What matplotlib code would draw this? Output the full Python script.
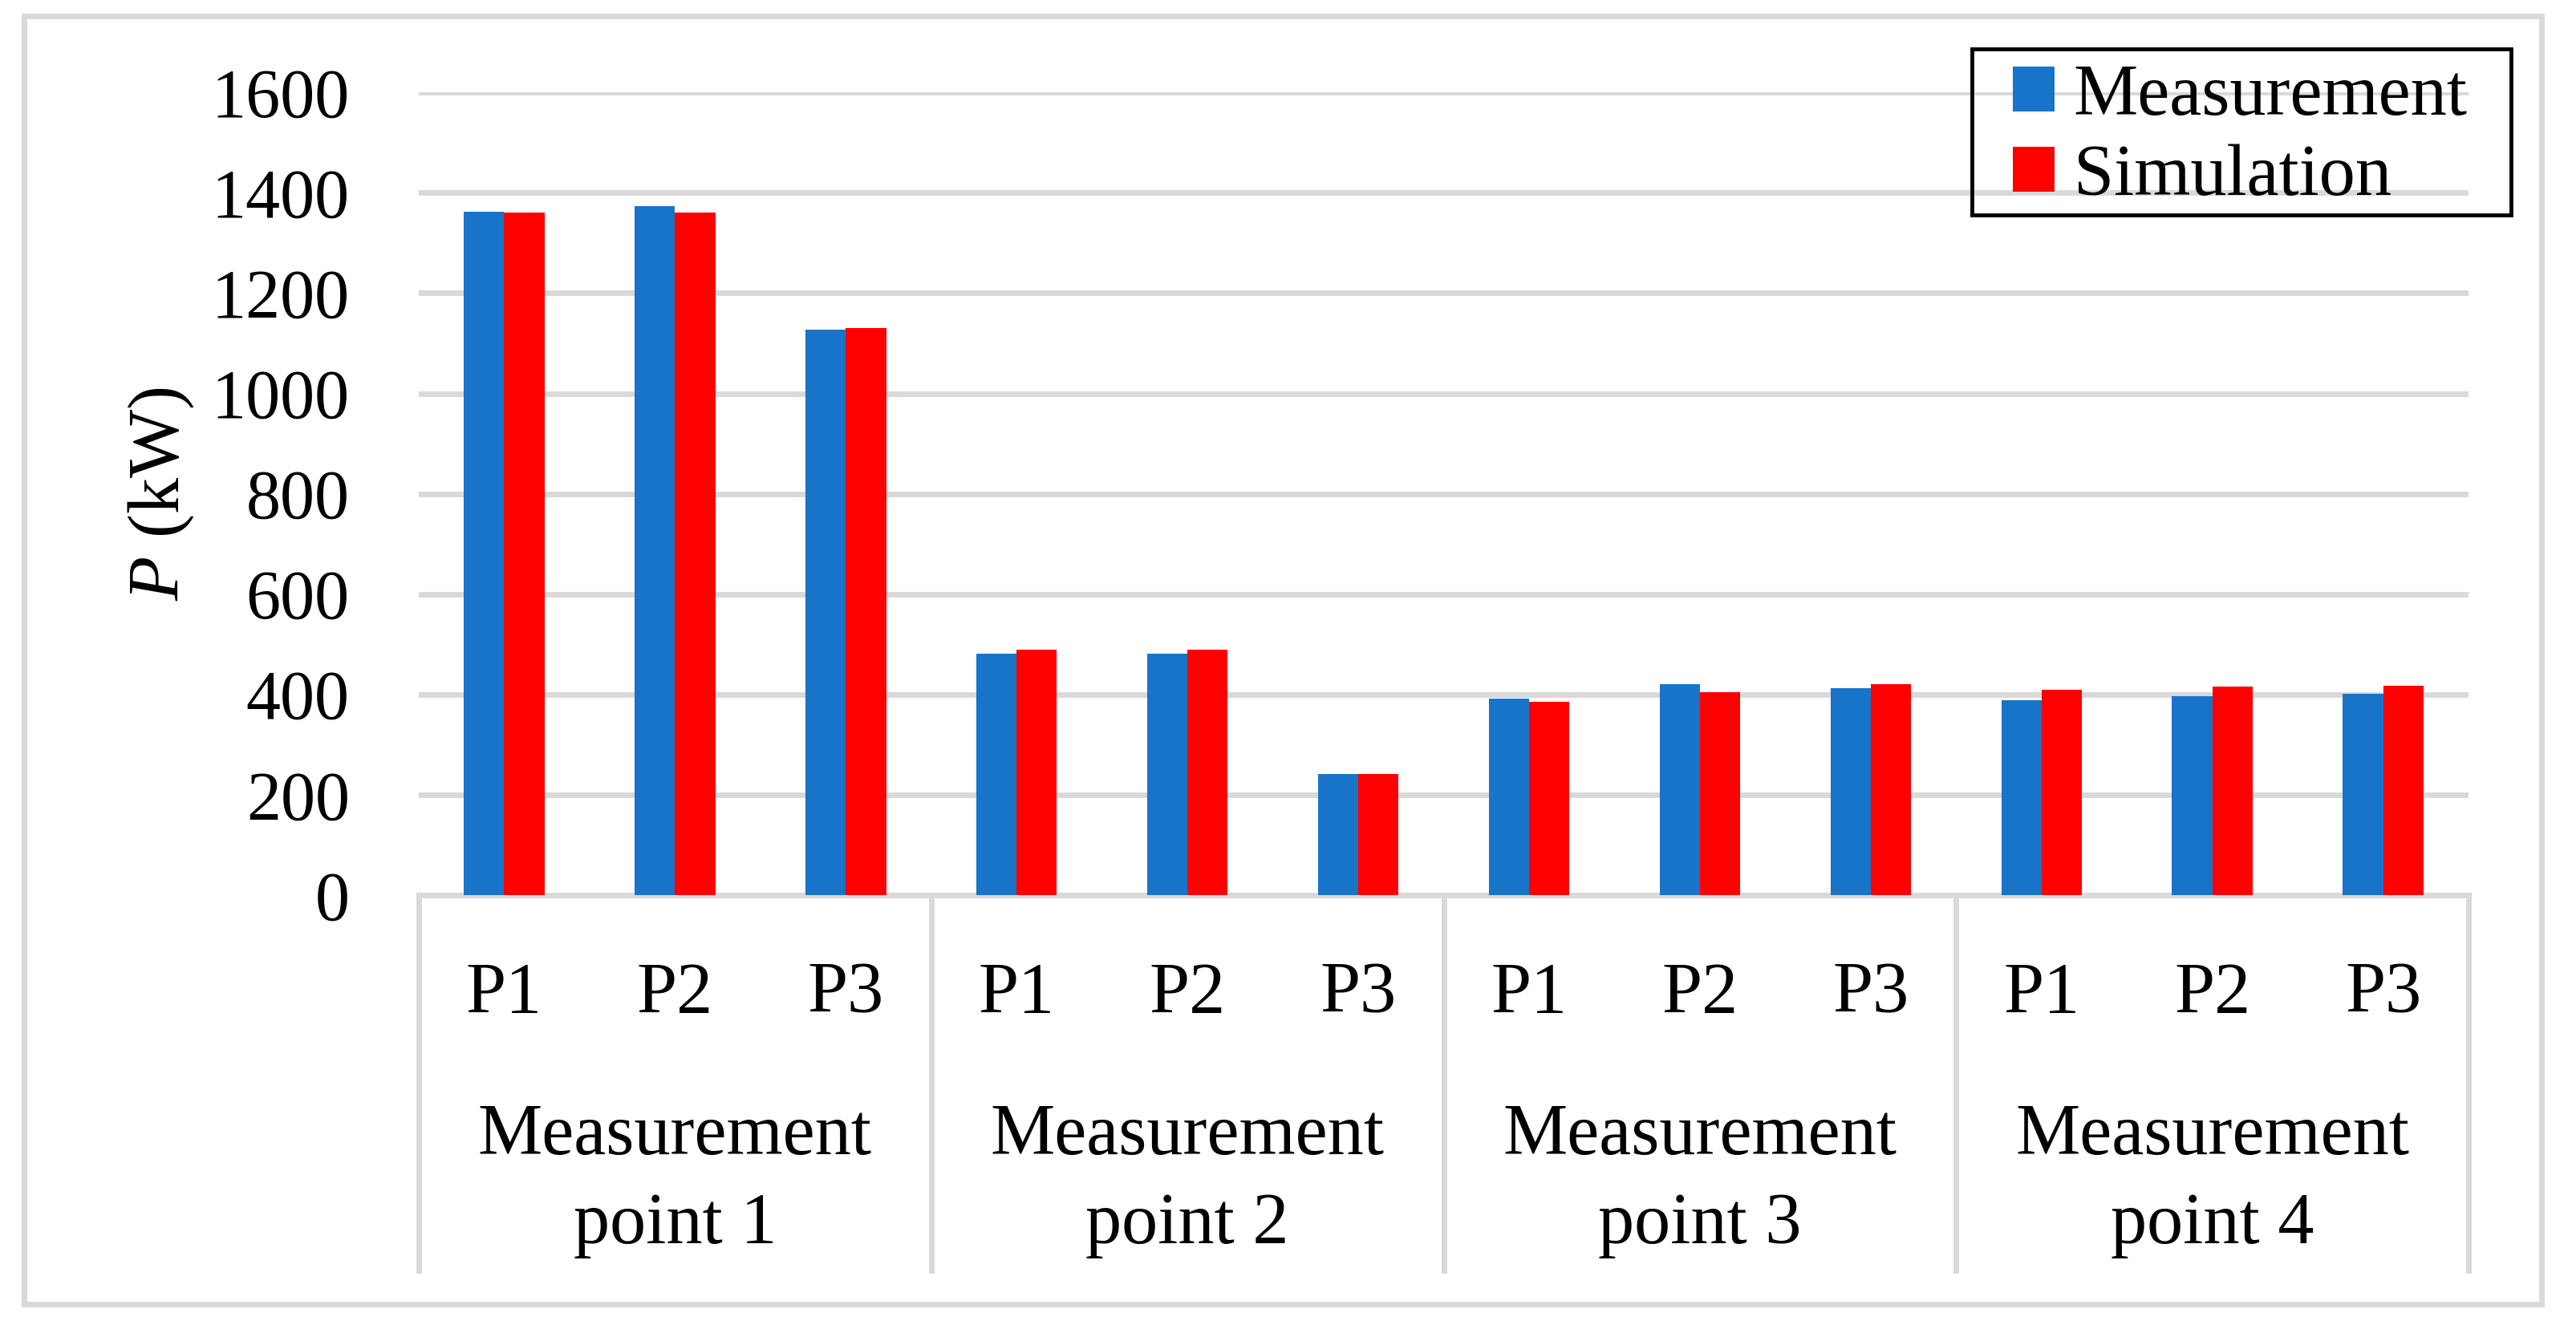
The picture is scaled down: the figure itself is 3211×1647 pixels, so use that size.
import numpy as np
import matplotlib.pyplot as plt
import matplotlib.transforms as mtransforms
from matplotlib.patches import Rectangle

plt.rcParams['font.family'] = 'Liberation Serif'
plt.rcParams['mathtext.fontset'] = 'custom'
plt.rcParams['mathtext.it'] = 'Liberation Serif:italic'

groups = ['Measurement\npoint 1', 'Measurement\npoint 2',
          'Measurement\npoint 3', 'Measurement\npoint 4']
phases = ['P1', 'P2', 'P3']
measurement = [1363, 1373, 1128, 482, 482, 242, 392, 420, 413, 388, 396, 402]
simulation = [1361, 1361, 1130, 489, 490, 242, 386, 404, 420, 410, 415, 418]

blue = '#1874C9'
red = '#FF0000'
grey = '#D9D9D9'
fs = 62
fs_txt = 65

fig = plt.figure(figsize=(32.12, 16.47), dpi=100)
ax_box = [0.1625, 0.3224, 0.958 - 0.1625, 0.930 - 0.3224]
ax = fig.add_axes(ax_box)

x = np.arange(len(measurement)) + 0.5
w = 0.236
ax.bar(x - w / 2, measurement, w, color=blue, label='Measurement', zorder=3)
ax.bar(x + w / 2, simulation, w, color=red, label='Simulation', zorder=3)

ax.set_xlim(0, len(measurement))
ax.set_ylim(0, 1600)
ax.set_yticks(range(0, 1601, 200))
ax.yaxis.grid(True, color=grey, lw=5)
ax.set_axisbelow(True)
for s in ['top', 'right', 'left']:
    ax.spines[s].set_visible(False)
ax.spines['bottom'].set_color(grey)
ax.spines['bottom'].set_linewidth(5)

ax.set_xticks(x)
ax.set_xticklabels(phases * len(groups))
ax.tick_params(axis='x', length=0, pad=60, labelsize=fs_txt)
ax.tick_params(axis='y', length=0, pad=62, labelsize=fs)
ax.set_ylabel('$P$ (kW)', fontsize=fs_txt, va='center')
ax.yaxis.set_label_coords(-0.1256, 0.5)

# group labels and dividers under the axis
trans = mtransforms.blended_transform_factory(ax.transData, fig.transFigure)
for i, g in enumerate(groups):
    fig.text(i * 3 + 1.5, 0.106, g, transform=trans, ha='center', va='center',
             fontsize=fs_txt, linespacing=1.45)
y_low = (0.038 - ax_box[1]) / ax_box[3]
tr2 = mtransforms.blended_transform_factory(ax.transData, ax.transAxes)
for b in range(0, len(measurement) + 1, 3):
    ax.plot([b, b], [0, y_low], color=grey, lw=5, transform=tr2, clip_on=False)

# legend with its own frame
leg = ax.legend(loc='upper left', bbox_to_anchor=(0.7811, 0.952),
                bbox_transform=fig.transFigure, fontsize=fs_txt, frameon=False,
                handlelength=0.58, handleheight=0.58, handletextpad=0.26,
                borderpad=0, labelspacing=0.2, borderaxespad=0)
fig.patches.append(Rectangle((0.7653, 0.8373), 0.9745 - 0.7653, 0.963 - 0.8373,
                             transform=fig.transFigure, fill=False,
                             edgecolor='black', lw=3.5, zorder=5))

fig.patches.append(Rectangle((0.0093, 0.0128), 0.977, 0.975, transform=fig.transFigure,
                             fill=False, edgecolor=grey, lw=5))

fig.savefig('out.png', dpi=100)
